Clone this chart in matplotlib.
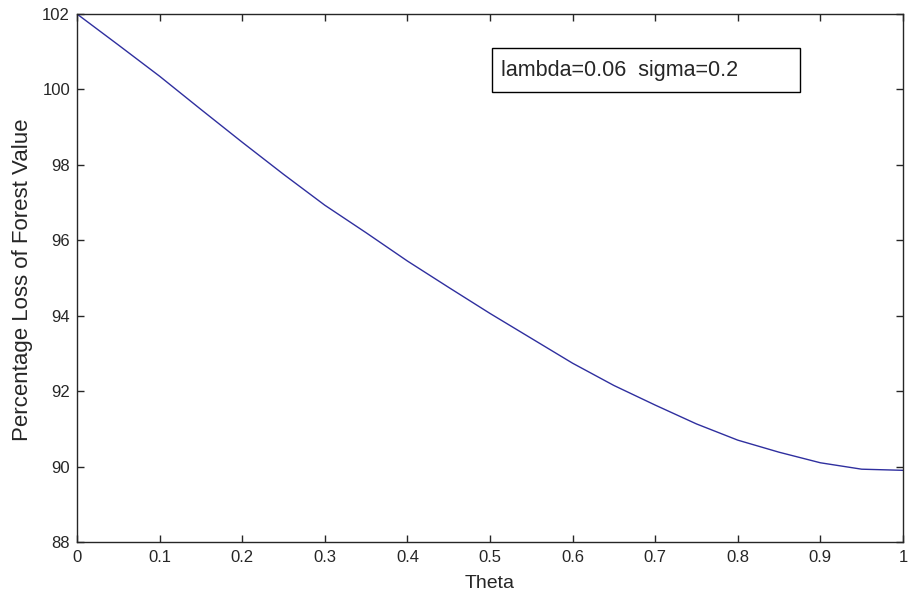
import matplotlib
matplotlib.use("Agg")
import matplotlib.pyplot as plt
from matplotlib.patches import Rectangle

theta = [0.0, 0.05, 0.1, 0.15, 0.2, 0.25, 0.3, 0.35, 0.4, 0.45, 0.5,
         0.55, 0.6, 0.65, 0.7, 0.75, 0.8, 0.85, 0.9, 0.95, 1.0]
loss = [102.0, 101.18, 100.35, 99.47, 98.6, 97.75, 96.93, 96.2, 95.45, 94.75, 94.06,
        93.4, 92.74, 92.15, 91.63, 91.13, 90.7, 90.38, 90.1, 89.93, 89.9]
xticks = [0, 0.1, 0.2, 0.3, 0.4, 0.5, 0.6, 0.7, 0.8, 0.9, 1]
xticklabels = ["0", "0.1", "0.2", "0.3", "0.4", "0.5", "0.6", "0.7", "0.8", "0.9", "1"]
yticks = [88, 90, 92, 94, 96, 98, 100, 102]
annotation = "lambda=0.06  sigma=0.2"

plt.rcParams['font.family'] = ['Liberation Sans', 'DejaVu Sans']

fig = plt.figure(figsize=(9.1, 6.0), dpi=100)
ax = fig.add_axes([0.0846, 0.0967, 0.9077, 0.88])
ax.plot(theta, loss, color='#2f2f9f', linewidth=1.0)
ax.set_xlim(0, 1)
ax.set_ylim(88, 102)
ax.set_xticks(xticks)
ax.set_xticklabels(xticklabels)
ax.set_yticks(yticks)
ax.tick_params(direction='in', top=True, right=True, length=5, width=1,
               labelsize=12, colors='#262626')
ax.tick_params(axis='x', pad=6)
ax.tick_params(axis='y', pad=5)
for s in ax.spines.values():
    s.set_color('#262626')
    s.set_linewidth(1.0)
ax.set_xlabel("Theta", fontsize=14, color='#262626', va='center')
ax.xaxis.set_label_coords(0.5, -0.0777)
ax.set_ylabel("Percentage Loss of Forest Value", fontsize=16, color='#262626', va='center')
ax.yaxis.set_label_coords(-0.0654, 0.496)

rect = Rectangle((0.502, 0.852), 0.373, 0.084, transform=ax.transAxes,
                 fill=False, edgecolor='black', linewidth=1.0)
ax.add_patch(rect)
ax.text(0.513, 0.893, annotation, transform=ax.transAxes, fontsize=15.5,
        va='center', ha='left', color='#262626')

fig.savefig("out.png", dpi=100)
